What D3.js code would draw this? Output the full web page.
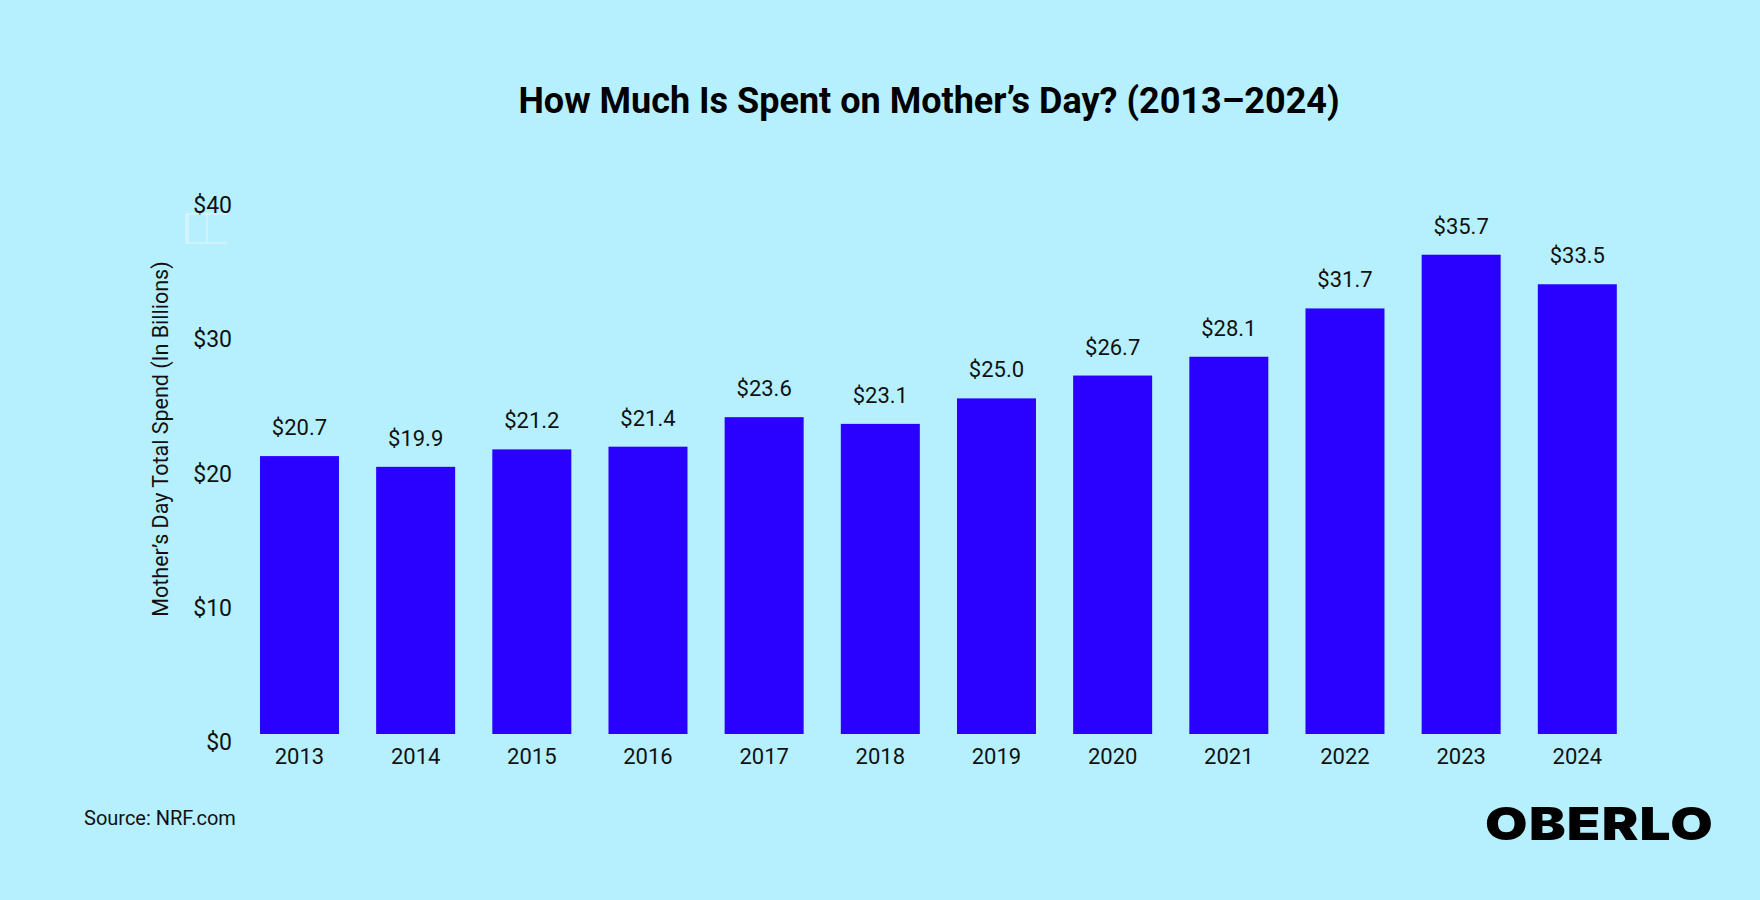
<!DOCTYPE html>
<html><head><meta charset="utf-8">
<script src="https://cdn.jsdelivr.net/npm/d3@7"></script>
<style>body{margin:0;background:#b6f0ff;}</style>
</head><body><div id="chart"></div>
<script>
const years = ["2013","2014","2015","2016","2017","2018","2019","2020","2021","2022","2023","2024"];
const spend = [20.7, 19.9, 21.2, 21.4, 23.6, 23.1, 25.0, 26.7, 28.1, 31.7, 35.7, 33.5];
const yTicks = [0, 10, 20, 30, 40];

const width = 1760, height = 900;
const svg = d3.select("#chart").append("svg")
    .attr("width", width).attr("height", height)
    .style("background", "#b6f0ff")
    .style("font-family", "Roboto, sans-serif");

const x = d3.scaleBand().domain(years).range([241.4, 1635.4]).paddingInner(0.32).paddingOuter(0.16);
const y = d3.scaleLinear().domain([0, 40]).range([734, 197]);

// title
svg.append("text").attr("x", 929).attr("y", 113).attr("text-anchor", "middle")
    .style("font-size", "36px").style("font-weight", "700").attr("fill", "#000")
    .text("How Much Is Spent on Mother’s Day? (2013–2024)");

// y axis labels
svg.selectAll(".ytick").data(yTicks).join("text")
    .attr("x", 232).attr("y", d => y(d) + 16)
    .attr("text-anchor", "end")
    .style("font-size", "23px").attr("fill", "#111")
    .text(d => "$" + d);

// small artifact box near top tick
svg.append("path").attr("d", "M186,214V243H227M188,214V243M207,214V243M186,214H227")
    .attr("fill", "none").attr("stroke", "#e8f4f8").attr("stroke-width", 1);

svg.append("text")
    .attr("transform", "translate(168,439) rotate(-90)")
    .attr("text-anchor", "middle")
    .style("font-size", "21.5px").attr("fill", "#111")
    .text("Mother’s Day Total Spend (In Billions)");

// bars
svg.selectAll(".bar").data(spend).join("rect")
    .attr("x", (d, i) => x(years[i])).attr("width", x.bandwidth())
    .attr("y", d => y(d)).attr("height", d => y(0) - y(d))
    .attr("fill", "#2a00ff");

svg.selectAll(".val").data(spend).join("text")
    .attr("x", (d, i) => x(years[i]) + x.bandwidth() / 2)
    .attr("y", d => y(d) - 21)
    .attr("text-anchor", "middle")
    .style("font-size", "22px").attr("fill", "#111")
    .text(d => "$" + d.toFixed(1));

svg.selectAll(".year").data(years).join("text")
    .attr("x", d => x(d) + x.bandwidth() / 2).attr("y", 764)
    .attr("text-anchor", "middle")
    .style("font-size", "22px").attr("fill", "#111")
    .text(d => d);

// footer
svg.append("text").attr("x", 84).attr("y", 825)
    .style("font-size", "20px").attr("fill", "#111").text("Source: NRF.com");

svg.append("text")
    .attr("transform", "translate(1714,840) scale(1.22,1)")
    .attr("text-anchor", "end")
    .style("font-size", "45px").style("font-weight", "900")
    .style("font-family", "Inter, Roboto, sans-serif")
    .attr("fill", "#000").attr("letter-spacing", "1")
    .text("OBERLO");
</script>
</body></html>
